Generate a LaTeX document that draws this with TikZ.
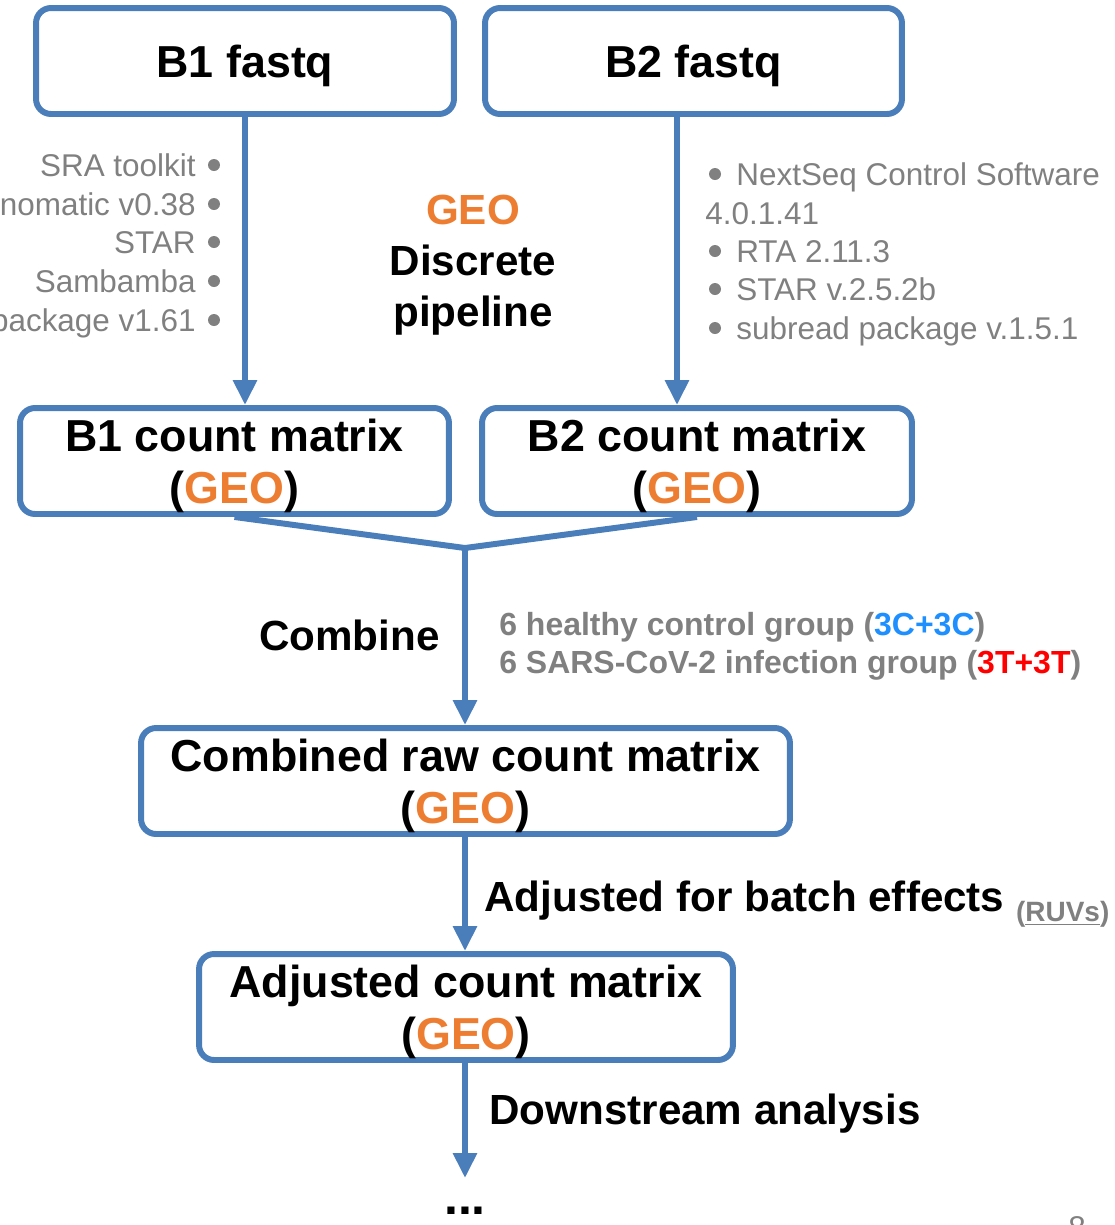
\documentclass[tikz,border=0pt]{standalone}
\usepackage{fontspec}
\setmainfont{Liberation Sans}
\usepackage{xcolor}
\usetikzlibrary{positioning,arrows.meta}
\definecolor{flowblue}{HTML}{4A7EBB}
\definecolor{geoorange}{HTML}{ED7D31}
\definecolor{txtgray}{HTML}{808080}
\definecolor{ctrlblue}{HTML}{1E8FFF}
\newcommand{\geo}{\textcolor{geoorange}{GEO}}
\tikzset{
  stagebox/.style={draw=flowblue, line width=3.4pt, rounded corners=0.3cm, align=center, inner sep=0pt,
    minimum height=2.12cm, text depth=0pt, font=\bfseries\fontsize{25.5}{29.6}\selectfont},
  flowline/.style={draw=flowblue, line width=3.4pt},
  flow/.style={flowline, -{Triangle[length=0.5cm,width=0.46cm]}},
  tool/.style={text=txtgray, inner sep=0pt, font=\fontsize{17.9}{21}\selectfont},
  steplabel/.style={inner sep=0pt, font=\bfseries\fontsize{24}{29}\selectfont}
}
\begin{document}
\begin{tikzpicture}[x=0.02cm, y=-0.02cm]
  \useasboundingbox (0,0) rectangle (1115,1225);
  % boxes
  \node[stagebox, minimum width=8.36cm] (B1fq) at (245,61) {B1 fastq};
  \node[stagebox, minimum width=8.34cm] (B2fq) at (693.5,61) {B2 fastq};
  \node[stagebox, minimum width=8.58cm] (B1cm) at (234.5,461) {B1 count matrix\\(\geo)};
  \node[stagebox, minimum width=8.6cm] (B2cm) at (697,461) {B2 count matrix\\(\geo)};
  \node[stagebox, minimum width=12.98cm] (comb) at (465.5,781) {Combined raw count matrix\\(\geo)};
  \node[stagebox, minimum width=10.68cm] (adj) at (466,1007) {Adjusted count matrix\\(\geo)};
  \coordinate (B2out) at (677,114);
  \coordinate (J) at (465,548);
  \coordinate (end) at (465,1178);
  % connectors
  \draw[flow] (B1fq.south) -- (B1fq.south |- B1cm.north);
  \draw[flow] (B2out) -- (B2out |- B2cm.north);
  \draw[flowline, line join=miter] (B1cm.south) -- (J) -- (B2cm.south);
  \draw[flow] (J) -- (J |- comb.north);
  \draw[flow] (J |- comb.south) -- (J |- adj.north);
  \draw[flow] (J |- adj.south) -- (end);
  % tools
  \foreach \y/\name in {165/SRA toolkit,204/nomatic v0.38,242/STAR,281/Sambamba,320/package v1.61}{
    \node[tool, anchor=base east] (lt\y) at (196,\y+11) {\name};
    \path[fill=txtgray] (214,\y) circle[radius=0.12cm];}
  \foreach \y/\name in {174/NextSeq Control Software,251/RTA 2.11.3,289/STAR v.2.5.2b,328/subread package v.1.5.1}{
    \node[tool, anchor=base west] (rt\y) at (736,\y+11) {\name};
    \path[fill=txtgray] (715,\y) circle[radius=0.12cm];}
  \node[tool, anchor=base west] (rtver) at (705,224) {4.0.1.41};
  % labels
  \node[steplabel, align=center] (geo) at (473,265) {\geo\\Discrete\\pipeline};
  \node[steplabel, anchor=east] (cmb) at (440,635) {Combine};
  \node[inner sep=0pt, anchor=west, align=left, text=txtgray, font=\bfseries\fontsize{18.2}{21.6}\selectfont] (grp) at (499,646)
    {6 healthy control group (\textcolor{ctrlblue}{3C+3C})\\6 SARS-CoV-2 infection group (\textcolor{red}{3T+3T})};
  \node[steplabel, anchor=base west] (batch) at (484,911) {Adjusted for batch effects \raisebox{-6pt}{\textcolor{txtgray}{\fontsize{15.9}{18}\selectfont(\underline{RUVs})}}};
  \node[steplabel, anchor=base west] (down) at (489,1124) {Downstream analysis};
  \node[steplabel, anchor=base, font=\bfseries\fontsize{28.5}{30}\selectfont] (dots) at (465,1214) {...};
  \node[tool, anchor=base] (pg) at (1077,1238) {8};
\end{tikzpicture}
\end{document}
